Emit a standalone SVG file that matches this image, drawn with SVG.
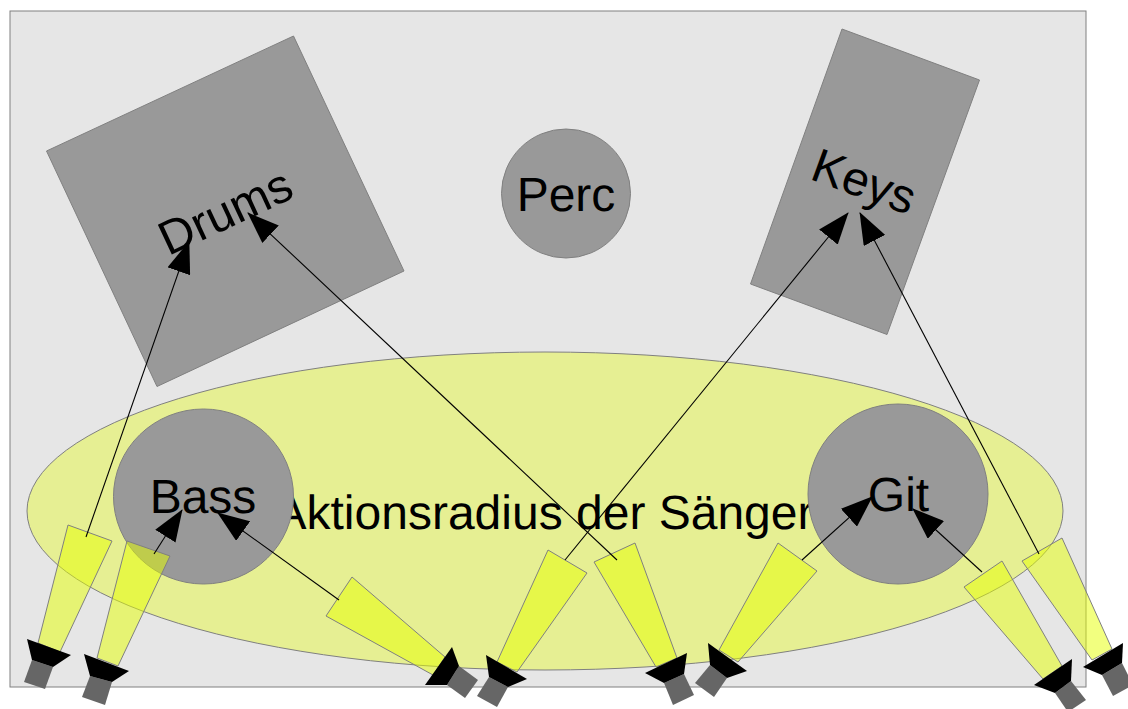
<svg xmlns="http://www.w3.org/2000/svg" width="1128" height="709" viewBox="0 0 1128 709">
<style>
text{font-family:"Liberation Sans",Arial,sans-serif;font-size:48px;fill:#000;text-anchor:middle;text-rendering:geometricPrecision}
.s{stroke:#808080;stroke-width:1}
.g{fill:#999}
.cone{fill:#e6ff00;fill-opacity:.5;stroke:#808080;stroke-width:1}
.b{fill:#000}
.m{fill:#666}
.c line{stroke:#000;stroke-width:1.1;marker-end:url(#head)}
</style>
<defs>
<marker id="head" markerUnits="userSpaceOnUse" viewBox="0 0 32 24" refX="31" refY="12" markerWidth="32" markerHeight="24" orient="auto"><path d="M0,0L32,12L0,24Z" fill="#000"/></marker>
</defs>
<rect x="10" y="11" width="1076" height="676" fill="#e6e6e6" class="s"/>
<g id="aktionsradius">
<ellipse cx="545" cy="511" rx="518" ry="159" fill="#e6ff00" fill-opacity=".36" class="s"/>
<text x="544" y="529">Aktionsradius der Sänger</text>
</g>
<g id="drums"><polygon points="293.500,36 404,271 157,386.500 46.500,151" class="g s"/><text transform="translate(225.500,212) rotate(-25)" y="16">Drums</text></g>
<g id="perc"><circle cx="566" cy="193.500" r="64.500" class="g s"/><text x="566" y="211">Perc</text></g>
<g id="keys"><polygon points="842,29 979.500,80 887,334.500 750.500,284" class="g s"/><text transform="translate(864,182) rotate(20)" y="16">Keys</text></g>
<g id="bass"><ellipse cx="203.500" cy="496.500" rx="90" ry="87.500" class="g s"/><text x="203" y="513">Bass</text></g>
<g id="git"><circle cx="898" cy="494" r="90" class="g s"/><text x="898.500" y="511">Git</text></g>
<g id="speaker1"><polygon class="cone" points="68,525 112,541 60,652 38,643"/><polygon class="m" points="32,660 53,667 45,689 24,682"/><polygon class="b" points="27,639 71,655 53,667 32,660"/></g>
<g id="speaker2"><polygon class="cone" points="127,541 170,556 118,666 97,658"/><polygon class="m" points="90,676 112,682 105,705 82,697"/><polygon class="b" points="84,654 129,671 112,682 90,676"/></g>
<g id="speaker3"><polygon class="cone" points="352,577 326,616 433,675 445,657"/><polygon class="m" points="459,666 478,680 465,698 447,685"/><polygon class="b" points="452,647 425,685 447,685 459,666"/></g>
<g id="speaker4"><polygon class="cone" points="548,550 587,573 517,672 497,662"/><polygon class="m" points="489,677 508,687 497,707 477,696"/><polygon class="b" points="486,655 527,679 508,687 489,677"/></g>
<g id="speaker5"><polygon class="cone" points="635,543 594,562 656,667 677,658"/><polygon class="m" points="664,683 684,674 694,695 673,705"/><polygon class="b" points="687,653 645,673 664,683 684,674"/></g>
<g id="speaker6"><polygon class="cone" points="778,543 817,571 738,662 719,650"/><polygon class="m" points="710,665 727,678 714,697 695,683"/><polygon class="b" points="708,643 747,671 727,678 710,665"/></g>
<g id="speaker7"><polygon class="cone" points="1002,561 964,587 1043,679 1062,666"/><polygon class="m" points="1055,693 1071,681 1086,700 1068,712"/><polygon class="b" points="1072,659 1034,685 1055,693 1071,681"/></g>
<g id="speaker8"><polygon class="cone" points="1062,538 1022,561 1092,660 1112,649"/><polygon class="m" points="1102,675 1122,663 1133,685 1113,696"/><polygon class="b" points="1123,643 1083,667 1102,675 1122,663"/></g>
<g id="connectors" class="c">
<line x1="86" y1="537" x2="189" y2="242"/>
<line x1="617" y1="560" x2="248" y2="213"/>
<line x1="154" y1="554" x2="182" y2="510"/>
<line x1="339" y1="600" x2="218" y2="513"/>
<line x1="565" y1="560" x2="848" y2="213"/>
<line x1="1039" y1="554" x2="860" y2="213"/>
<line x1="802" y1="560" x2="872" y2="497"/>
<line x1="982" y1="572" x2="913" y2="509"/>
</g>
</svg>
